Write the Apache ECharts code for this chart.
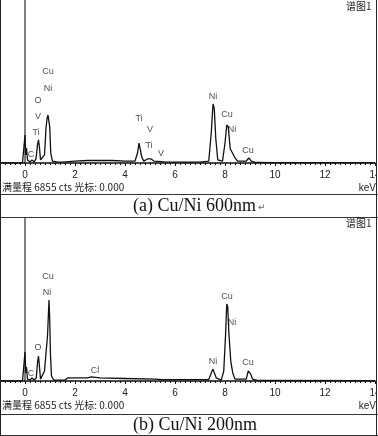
<!DOCTYPE html>
<html>
<head>
<meta charset="utf-8">
<script src="https://cdn.jsdelivr.net/npm/echarts@6/dist/echarts.min.js"></script>
<style>
html, body { margin: 0; padding: 0; background: #fff; }
#main { width: 378px; height: 436px; }
</style>
</head>
<body>
<div id="main"></div>
<script>
// EDS spectra, counts vs keV
var fullScale = 6855;

var specA = [[-2, 0], [-0.1, 0], [-0.04, 80], [0, 1180], [0.03, 340], [0.06, 630], [0.1, 130], [0.2, 40],
    [0.28, 130], [0.36, 40], [0.44, 170], [0.5, 760], [0.54, 970], [0.58, 630], [0.62, 130], [0.7, 80],
    [0.78, 340], [0.84, 1470], [0.88, 1850], [0.92, 2020], [0.95, 2100], [0.99, 1510], [1.03, 420],
    [1.1, 80], [1.3, 40], [1.5, 40], [2.0, 80], [2.5, 105], [3.0, 105], [3.5, 105], [4.0, 80], [4.4, 80],
    [4.5, 420], [4.56, 840], [4.61, 760], [4.67, 250], [4.75, 80], [4.9, 170], [4.98, 210], [5.05, 170],
    [5.15, 80], [5.45, 60], [5.6, 40], [6.0, 40], [7.0, 35], [7.35, 80], [7.45, 1260], [7.52, 2480],
    [7.57, 2310], [7.63, 1050], [7.71, 130], [7.9, 80], [8.0, 840], [8.07, 1600], [8.13, 1510],
    [8.21, 590], [8.3, 420], [8.38, 250], [8.5, 80], [8.85, 80], [8.95, 210], [9.05, 80], [9.25, 20],
    [10, 15], [14, 10]];

var specB = [[-2, 0], [-0.1, 0], [-0.04, 80], [0, 1220], [0.03, 340], [0.06, 590], [0.1, 80], [0.2, 40],
    [0.28, 130], [0.36, 40], [0.45, 130], [0.5, 760], [0.54, 1050], [0.58, 590], [0.62, 80], [0.7, 80],
    [0.78, 420], [0.84, 1180], [0.9, 1890], [0.93, 2650], [0.96, 3410], [0.99, 2520], [1.02, 1050],
    [1.06, 210], [1.15, 40], [1.6, 40], [1.7, 130], [2.5, 130], [2.65, 170], [3.0, 130], [4.0, 105],
    [5.2, 80], [5.5, 60], [6.5, 60], [7.35, 60], [7.45, 340], [7.52, 500], [7.58, 420], [7.65, 130],
    [7.85, 40], [7.95, 420], [8.02, 1890], [8.07, 3240], [8.11, 3110], [8.15, 2100], [8.23, 840],
    [8.31, 340], [8.4, 80], [8.85, 80], [8.93, 420], [8.98, 460], [9.03, 290], [9.1, 80], [9.35, 20],
    [14, 10]];

// element labels: [text, keV, counts]
var labelsA = [['Cu', 0.92, 3827], ['Ni', 0.92, 3112], ['O', 0.52, 2608], ['V', 0.52, 1935],
    ['Ti', 0.44, 1262], ['C', 0.24, 336], ['Ti', 4.56, 1851], ['V', 5.0, 1388], ['Ti', 4.96, 715],
    ['V', 5.44, 379], ['Ni', 7.52, 2776], ['Cu', 8.08, 2019], ['Ni', 8.28, 1388], ['Cu', 8.92, 505]];

var labelsB = [['Cu', 0.92, 4374], ['Ni', 0.88, 3701], ['O', 0.52, 1388], ['C', 0.24, 294],
    ['Cl', 2.8, 420], ['Ni', 7.52, 799], ['Cu', 8.08, 3533], ['Ni', 8.28, 2439], ['Cu', 8.92, 757]];

var keVTicks = [0, 2, 4, 6, 8, 10, 12, 14];

var myChart = echarts.init(document.getElementById('main'));

function xAx(idx) {
    return {
        type: 'value', gridIndex: idx, min: -2, max: 14, interval: 2,
        axisLine: { lineStyle: { color: '#111', width: 1.5 } },
        axisTick: { show: true, length: 3, lineStyle: { color: '#111' } },
        minorTick: { show: true, splitNumber: 10, length: 2, lineStyle: { color: '#111' } },
        splitLine: { show: false },
        axisLabel: {
            color: '#222', fontSize: 10, fontFamily: 'Liberation Sans', margin: 7,
            formatter: function (v) { return keVTicks.indexOf(v) >= 0 ? String(v) : ''; }
        }
    };
}
function yAx(idx) {
    return {
        type: 'value', gridIndex: idx, min: 0, max: fullScale,
        axisLine: { show: true, onZero: true, lineStyle: { color: '#555', width: 1.5 } },
        axisTick: { show: false },
        axisLabel: { show: false },
        splitLine: { show: false }
    };
}
function labelSeries(arr, idx) {
    return {
        type: 'scatter', xAxisIndex: idx, yAxisIndex: idx, symbolSize: 1, silent: true,
        itemStyle: { color: 'rgba(0,0,0,0)' },
        label: {
            show: true, position: 'inside', color: '#222', fontSize: 9, fontFamily: 'Liberation Sans',
            formatter: function (p) { return p.data[2]; }
        },
        data: arr.map(function (d) { return [d[1], d[2], d[0]]; })
    };
}
function lineSeries(arr, idx) {
    return {
        type: 'line', xAxisIndex: idx, yAxisIndex: idx, symbol: 'none', silent: true,
        lineStyle: { color: '#111', width: 1.3 },
        data: arr
    };
}

var option = {
    animation: false,
    backgroundColor: '#fff',
    grid: [
        { left: -25, width: 400, top: 0, height: 163, outerBoundsMode: 'none', containLabel: false },
        { left: -25, width: 400, top: 218, height: 163, outerBoundsMode: 'none', containLabel: false }
    ],
    xAxis: [xAx(0), xAx(1)],
    yAxis: [yAx(0), yAx(1)],
    series: [lineSeries(specA, 0), lineSeries(specB, 1), labelSeries(labelsA, 0), labelSeries(labelsB, 1)],
    graphic: [
        { type: 'line', shape: { x1: 0, y1: 194.5, x2: 378, y2: 194.5 }, style: { stroke: '#333', lineWidth: 1 }, z: 10 },
        { type: 'line', shape: { x1: 0, y1: 217.5, x2: 378, y2: 217.5 }, style: { stroke: '#333', lineWidth: 1 }, z: 10 },
        { type: 'line', shape: { x1: 0, y1: 414.5, x2: 378, y2: 414.5 }, style: { stroke: '#333', lineWidth: 1 }, z: 10 },
        { type: 'line', shape: { x1: 0, y1: 435.5, x2: 378, y2: 435.5 }, style: { stroke: '#333', lineWidth: 1 }, z: 10 },
        { type: 'rect', shape: { x: 377, y: 0, width: 1, height: 436 }, style: { fill: '#fff' }, z: 9 },
        { type: 'line', shape: { x1: 0.5, y1: 0, x2: 0.5, y2: 436 }, style: { stroke: '#222', lineWidth: 1 }, z: 10 },
        { type: 'line', shape: { x1: 376.5, y1: 0, x2: 376.5, y2: 436 }, style: { stroke: '#222', lineWidth: 1 }, z: 10 },
        { type: 'text', left: 346, top: 1, style: { text: '谱图1', font: '10px "Noto Sans CJK SC"', fill: '#222' }, z: 10 },
        { type: 'text', left: 346, top: 218, style: { text: '谱图1', font: '10px "Noto Sans CJK SC"', fill: '#222' }, z: 10 },
        { type: 'text', left: 2, top: 182, style: { text: '满量程 6855 cts 光标: 0.000', font: '10px "Noto Sans CJK SC"', fill: '#222' }, z: 10 },
        { type: 'text', left: 2, top: 400, style: { text: '满量程 6855 cts 光标: 0.000', font: '10px "Noto Sans CJK SC"', fill: '#222' }, z: 10 },
        { type: 'text', right: 2, top: 183, style: { text: 'keV', font: '10px "Liberation Sans"', fill: '#222' }, z: 10 },
        { type: 'text', right: 2, top: 401, style: { text: 'keV', font: '10px "Liberation Sans"', fill: '#222' }, z: 10 },
        { type: 'text', left: 133, top: 197, style: { text: '(a) Cu/Ni 600nm', font: '18px "Liberation Serif"', fill: '#111' }, z: 10 },
        { type: 'text', left: 258, top: 203, style: { text: '↵', font: '9px "DejaVu Sans"', fill: '#666' }, z: 10 },
        { type: 'text', left: 133, top: 416, style: { text: '(b) Cu/Ni 200nm', font: '18px "Liberation Serif"', fill: '#111' }, z: 10 }
    ]
};
myChart.setOption(option);
</script>
</body>
</html>
